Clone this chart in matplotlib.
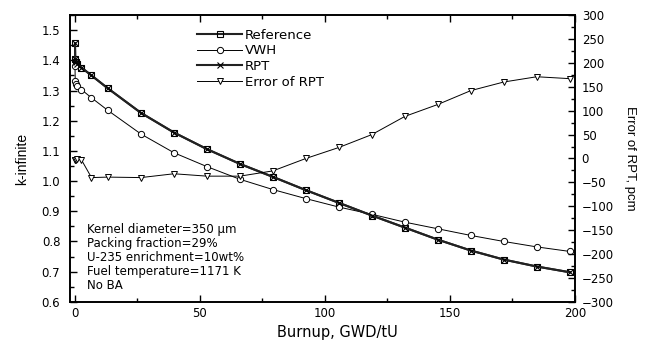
import matplotlib
matplotlib.use("Agg")
import matplotlib.pyplot as plt
from matplotlib.ticker import MultipleLocator, FormatStrFormatter

# the original uses a widely spaced Arial; DejaVu is the widest face here
plt.rcParams['font.family'] = ['DejaVu Sans']

# burnup steps, GWD/tU
burnup = [0, 0.1, 0.5, 1.0, 2.6, 6.6, 13.2, 26.4, 39.6, 52.8, 66.0, 79.2,
          92.4, 105.6, 118.8, 132.0, 145.2, 158.4, 171.6, 184.8, 198.0]

k_ref = [1.456, 1.406, 1.394, 1.387, 1.376, 1.350, 1.307, 1.226, 1.161, 1.106,
         1.057, 1.014, 0.970, 0.928, 0.886, 0.846, 0.806, 0.770, 0.740, 0.717, 0.698]
k_vwh = [1.381, 1.333, 1.322, 1.314, 1.303, 1.276, 1.234, 1.156, 1.094, 1.048,
         1.006, 0.972, 0.942, 0.914, 0.890, 0.864, 0.842, 0.820, 0.800, 0.782, 0.767]
k_rpt = [1.456, 1.406, 1.394, 1.387, 1.376, 1.350, 1.307, 1.226, 1.161, 1.106,
         1.057, 1.014, 0.970, 0.928, 0.886, 0.846, 0.806, 0.770, 0.740, 0.717, 0.698]
err_rpt = [-3, -3, -3, -2, -3, -40, -39, -40, -32, -37, -37, -26, 0, 23, 50,
           88, 113, 142, 160, 171, 167]

info = ["Kernel diameter=350 \u03bcm", "Packing fraction=29%",
        "U-235 enrichment=10wt%", "Fuel temperature=1171 K", "No BA"]

fig = plt.figure(figsize=(6.48, 3.43), dpi=100)
ax = fig.add_axes([0.108, 0.12, 0.779, 0.836])
ax2 = ax.twinx()

l1, = ax.plot(burnup, k_ref, color='#222222', lw=1.5, marker='s', ms=4,
              mfc='none', mec='black', mew=0.8, label='Reference')
l2, = ax.plot(burnup, k_vwh, color='black', lw=0.7, marker='o', ms=4.5,
              mfc='white', mec='black', mew=0.7, label='VWH')
l3, = ax.plot(burnup, k_rpt, color='#222222', lw=1.5, marker='x', ms=4.5,
              mec='black', mew=0.8, label='RPT')
l4, = ax2.plot(burnup, err_rpt, color='black', lw=0.7, marker='v', ms=4.5,
               mfc='white', mec='black', mew=0.7, label='Error of RPT')

ax.set_xlim(-2, 200)
ax.set_ylim(0.6, 1.55)
ax2.set_ylim(-300, 300)

ax.xaxis.set_major_locator(MultipleLocator(50))
ax.xaxis.set_minor_locator(MultipleLocator(25))
ax.yaxis.set_major_locator(MultipleLocator(0.1))
ax.yaxis.set_minor_locator(MultipleLocator(0.05))
ax.yaxis.set_major_formatter(FormatStrFormatter('%.1f'))
ax2.yaxis.set_major_locator(MultipleLocator(50))
ax2.yaxis.set_minor_locator(MultipleLocator(25))

ax.tick_params(which='both', direction='in', top=True, right=False,
               labelsize=8.5, width=1)
ax.tick_params(which='major', length=5)
ax.tick_params(which='minor', length=3)
ax.tick_params(axis='y', pad=7)
ax.tick_params(axis='x', pad=4)
ax2.tick_params(which='both', direction='in', labelsize=8.5, width=1, pad=5)
ax2.tick_params(which='major', length=5)
ax2.tick_params(which='minor', length=3)
for a in (ax, ax2):
    for s in a.spines.values():
        s.set_linewidth(1.2)

ax.set_xlabel("Burnup, GWD/tU", fontsize=10.5)
ax.xaxis.set_label_coords(0.53, -0.082)
ax.set_ylabel("k-infinite", fontsize=10, family='Liberation Sans', labelpad=9)
ax2.set_ylabel("Error of RPT, pcm", fontsize=9.5, family='Liberation Sans',
               rotation=270, labelpad=16)

ax.text(5, 0.633, "\n".join(info), fontsize=8.5, linespacing=1.1,
        va='bottom', ha='left')

ax.legend(handles=[l1, l2, l3, l4], loc='upper left',
          bbox_to_anchor=(0.234, 0.985), frameon=False, fontsize=9.5,
          handlelength=3.4, handletextpad=0.2, labelspacing=0.2,
          borderpad=0.2)

fig.savefig("out.png", dpi=100)
